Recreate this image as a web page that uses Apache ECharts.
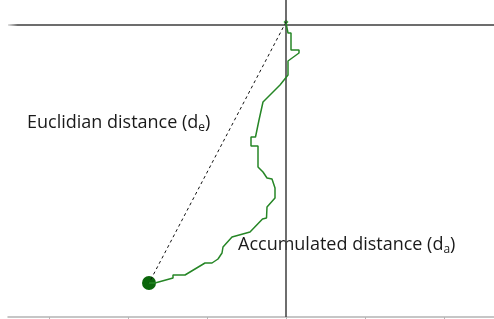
<!DOCTYPE html>
<html>
<head>
<meta charset="utf-8">
<script src="https://cdn.jsdelivr.net/npm/echarts@6/dist/echarts.min.js"></script>
<style>
  html, body { margin: 0; padding: 0; background: #fff; }
  #chart { width: 494px; height: 319px; }
</style>
</head>
<body>
<div id="chart"></div>
<script>
// offsets in px-like units from the vertical reference line (x) and the top line (y)
var pathX = [0, 2, 2, 5, 5, 13, 13, 2, 2, -6, -23, -27, -30.5, -35, -35, -28, -28, -23, -19, -14, -11, -11, -19, -19.5, -23.5, -36, -54, -63, -64, -68, -74, -81, -101, -113, -113, -131, -137];
var pathY = [2, 0, -8, -8, -25, -25, -28, -36, -50, -60, -77, -95, -112, -112, -121, -121, -142, -147, -153, -154, -163, -173, -182, -193, -194, -207, -212, -222, -228, -234, -238, -238, -250, -250, -253, -258, -258];
var startPoint = [0, 3];
var endPoint = [-137, -258];
var tickValues = [-237, -158, -79, 0, 79, 158];

var chart = echarts.init(document.getElementById("chart"));

var pathData = [];
for (var i = 0; i < pathX.length; i++) {
  pathData.push([pathX[i], pathY[i]]);
}

var labelStyle = function (text, size) {
  return {
    text: text,
    font: size + "px 'Open Sans'",
    fill: "#1a1a1a",
    rich: {
      sub: { fontSize: 12, fontFamily: "Open Sans", fill: "#1a1a1a", padding: [10, 0, 0, 0] }
    }
  };
};

var option = {
  animation: false,
  grid: { left: 8, right: 0, top: 0, bottom: 2 },
  xAxis: {
    type: "value",
    min: -278,
    max: 208,
    splitLine: { show: false },
    axisLine: { show: true, onZero: false, lineStyle: { color: "#b4b4b4", width: 1.5 } },
    axisTick: { show: true, customValues: tickValues, length: 3, lineStyle: { color: "#b4b4b4" } },
    axisLabel: { show: false }
  },
  yAxis: {
    type: "value",
    min: -292,
    max: 25,
    show: false,
    splitLine: { show: false }
  },
  series: [
    {
      // top horizontal line
      type: "line",
      data: [[-278, 0], [208, 0]],
      symbol: "none",
      silent: true,
      lineStyle: {
        width: 1.5,
        color: new echarts.graphic.LinearGradient(0, 0, 1, 0, [
          { offset: 0, color: "rgba(60,60,60,0)" },
          { offset: 0.025, color: "#3c3c3c" },
          { offset: 1, color: "#3c3c3c" }
        ])
      }
    },
    {
      // vertical line
      type: "line",
      data: [[0, -292], [0, 25]],
      symbol: "none",
      silent: true,
      lineStyle: { width: 1.6, color: "#4a4a4a" }
    },
    {
      // euclidian distance
      type: "line",
      data: [startPoint, endPoint],
      symbol: "none",
      lineStyle: { width: 1, color: "#111", type: [3, 3] }
    },
    {
      // accumulated path
      type: "line",
      data: pathData,
      symbol: "none",
      lineStyle: { width: 1.5, color: "#268626" }
    },
    {
      type: "scatter",
      data: [startPoint],
      symbol: "diamond",
      symbolSize: 5,
      itemStyle: { color: "#2fa52f", opacity: 1 }
    },
    {
      type: "scatter",
      data: [endPoint],
      symbolSize: 14,
      itemStyle: { color: "#0b660b", opacity: 1 }
    }
  ],
  graphic: [
    {
      type: "text",
      left: 27,
      top: 114,
      style: labelStyle("Euclidian distance (d{sub|e})", 18)
    },
    {
      type: "text",
      left: 238,
      top: 236,
      style: labelStyle("Accumulated distance (d{sub|a})", 18)
    }
  ]
};

chart.setOption(option);
</script>
</body>
</html>
